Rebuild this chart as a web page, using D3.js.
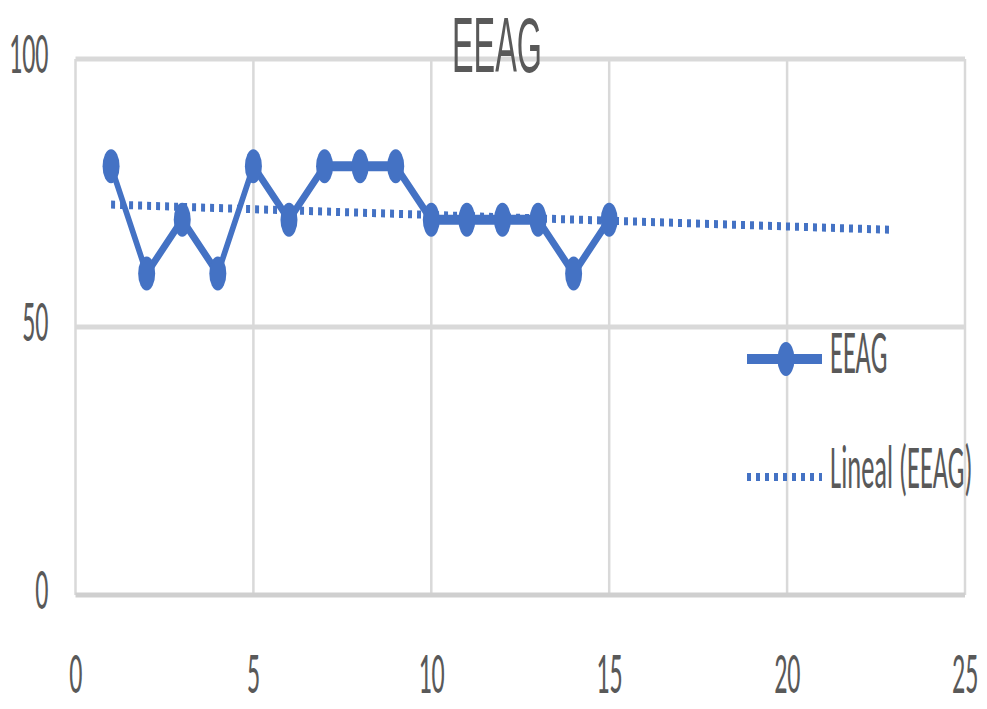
<!DOCTYPE html>
<html>
<head>
<meta charset="utf-8">
<script src="https://cdn.jsdelivr.net/npm/d3@7"></script>
<style>
  html, body { margin: 0; padding: 0; background: #fff; }
  svg { display: block; }
  text { font-family: Carlito, Lato, "Open Sans", sans-serif; fill: #595959; }
</style>
</head>
<body>
<svg id="chart" width="987" height="709"></svg>
<script>
// Series data
const xValues = [1, 2, 3, 4, 5, 6, 7, 8, 9, 10, 11, 12, 13, 14, 15];
const eeagValues = [80, 60, 70, 60, 80, 70, 80, 80, 80, 70, 70, 70, 70, 60, 70];
const xTicks = [0, 5, 10, 15, 20, 25];
const yTicks = [0, 50, 100];
const seriesName = "EEAG";
const trendName = "Lineal (EEAG)";
const trendForward = 8; // periods the linear trend is projected ahead

// The whole drawing is squeezed horizontally; labels are also drawn a bit taller
const SX = 0.5;
const TY = 1.15;
const blue = "#4472C4";
const fontStack = "Carlito, Lato, 'Open Sans', sans-serif";

const svg = d3.select("#chart");
const root = svg.append("g").attr("transform", `scale(${SX},1)`);

const x = d3.scaleLinear().domain([0, 25]).range([75.5 / SX, 965 / SX]);
const y = d3.scaleLinear().domain([0, 100]).range([595, 59]);

// Gridlines
const grid = root.append("g");
grid.selectAll("line.v").data(xTicks).enter().append("line")
  .attr("x1", d => x(d)).attr("x2", d => x(d))
  .attr("y1", y(0)).attr("y2", y(100))
  .attr("stroke", "#d9d9d9").attr("stroke-width", 5);
grid.selectAll("line.h").data(yTicks).enter().append("line")
  .attr("x1", x(0)).attr("x2", x(25))
  .attr("y1", d => y(d)).attr("y2", d => y(d))
  .attr("stroke", d => d === 0 ? "#cfcfcf" : "#d9d9d9").attr("stroke-width", 5);

// Axis labels
const yAxis = d3.axisLeft(y).tickValues(yTicks).tickSize(0).tickPadding(0);
root.append("g")
  .attr("transform", `translate(${97},0)`)
  .call(yAxis)
  .call(g => g.select(".domain").remove())
  .selectAll("text")
  .attr("font-size", 52).attr("y", 12).attr("dy", 0)
  .attr("transform", `scale(1,${TY})`)
  .style("fill", "#595959").style("font-family", fontStack);

const xAxis = d3.axisBottom(x).tickValues(xTicks).tickSize(0).tickPadding(0);
root.append("g")
  .attr("transform", `translate(0,${693})`)
  .call(xAxis)
  .call(g => g.select(".domain").remove())
  .selectAll("text")
  .attr("font-size", 52).attr("y", 0).attr("dy", 0)
  .attr("transform", `scale(1,${TY})`)
  .style("fill", "#595959").style("font-family", fontStack);

// Linear trend (least squares)
const n = xValues.length;
const mx = d3.mean(xValues), my = d3.mean(eeagValues);
const sxy = d3.sum(xValues, (v, i) => (v - mx) * (eeagValues[i] - my));
const sxx = d3.sum(xValues, v => (v - mx) * (v - mx));
const slope = sxy / sxx, intercept = my - slope * mx;
const trendX = [xValues[0], xValues[n - 1] + trendForward];

root.append("line")
  .attr("x1", x(trendX[0])).attr("x2", x(trendX[1]))
  .attr("y1", y(intercept + slope * trendX[0]))
  .attr("y2", y(intercept + slope * trendX[1]))
  .attr("stroke", blue).attr("stroke-width", 8)
  .attr("stroke-dasharray", "8,10");

// Series line and markers
const pts = xValues.map((v, i) => [v, eeagValues[i]]);
root.append("path")
  .datum(pts)
  .attr("fill", "none").attr("stroke", blue).attr("stroke-width", 10)
  .attr("stroke-linejoin", "round")
  .attr("d", d3.line().x(d => x(d[0])).y(d => y(d[1])));
root.selectAll("circle.pt").data(pts).enter().append("circle")
  .attr("cx", d => x(d[0])).attr("cy", d => y(d[1])).attr("r", 17)
  .attr("fill", blue);

// Title
root.append("text")
  .attr("transform", `translate(${497 / SX},72) scale(0.83,1)`)
  .attr("text-anchor", "middle").attr("font-size", 78)
  .style("font-family", "'Liberation Sans', Arial, sans-serif")
  .text(seriesName);

// Legend
const lg = root.append("g");
lg.append("line").attr("x1", 747 / SX).attr("x2", 822 / SX)
  .attr("y1", 359).attr("y2", 359)
  .attr("stroke", blue).attr("stroke-width", 10);
lg.append("circle").attr("cx", 786 / SX).attr("cy", 359).attr("r", 17).attr("fill", blue);
lg.append("text")
  .attr("transform", `translate(${830 / SX},373) scale(1,${TY})`)
  .attr("font-size", 53).text(seriesName);

lg.append("line").attr("x1", 747 / SX).attr("x2", 822 / SX)
  .attr("y1", 477).attr("y2", 477)
  .attr("stroke", blue).attr("stroke-width", 8)
  .attr("stroke-dasharray", "8,10");
lg.append("text")
  .attr("transform", `translate(${830 / SX},488) scale(1,${TY})`)
  .attr("font-size", 53).text(trendName);
</script>
</body>
</html>
